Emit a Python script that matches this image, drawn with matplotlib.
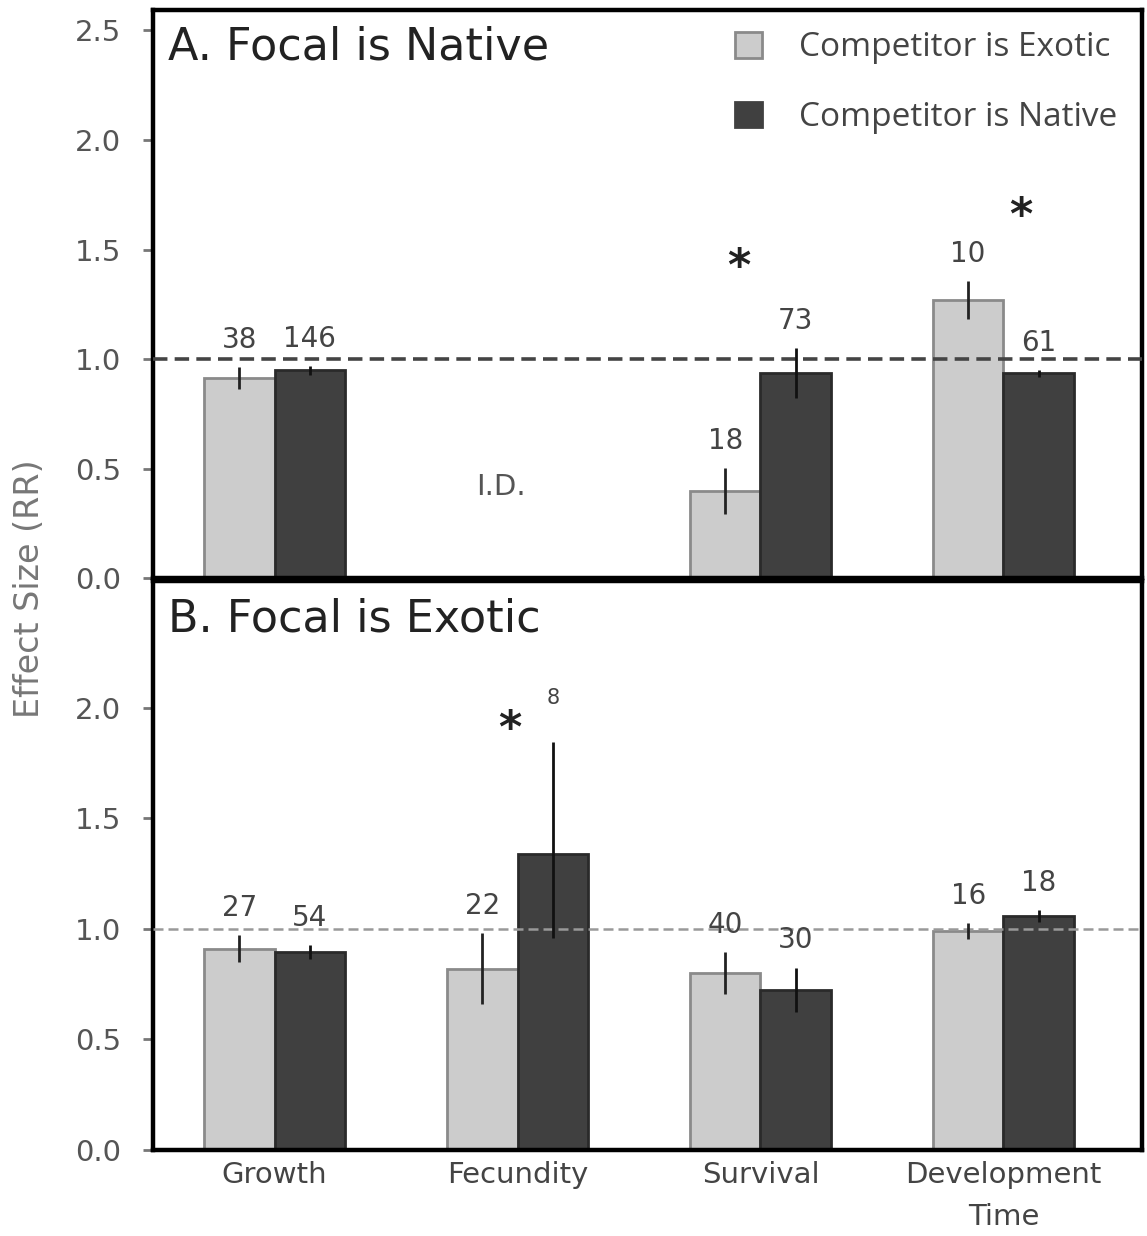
import numpy as np
import matplotlib
matplotlib.use("Agg")
import matplotlib.pyplot as plt
from matplotlib.patches import Patch

categories = ["Growth", "Fecundity", "Survival", "Development\nTime"]
series_names = ["Competitor is Exotic", "Competitor is Native"]

# panel A: focal is native (Fecundity has insufficient data)
a_exotic = [0.913, np.nan, 0.40, 1.27]
a_exotic_err = [0.05, np.nan, 0.105, 0.085]
a_native = [0.95, np.nan, 0.936, 0.936]
a_native_err = [0.02, np.nan, 0.115, 0.015]
a_exotic_n = ["38", "", "18", "10"]
a_native_n = ["146", "", "73", "61"]
a_stars = [None, None, 1.42, 1.65]

# panel B: focal is exotic
b_exotic = [0.91, 0.82, 0.80, 0.99]
b_exotic_err = [0.06, 0.16, 0.095, 0.035]
b_native = [0.895, 1.336, 0.724, 1.057]
b_native_err_lo = [0.03, 0.38, 0.10, 0.028]
b_native_err_hi = [0.03, 0.51, 0.10, 0.028]
b_exotic_n = ["27", "22", "40", "16"]
b_native_n = ["54", "8", "30", "18"]
b_stars = [None, 1.90, None, None]

light = "#cccccc"
dark = "#404040"
text_grey = "#555555"

fig = plt.figure(figsize=(11.47, 12.36), dpi=100)
ax_a = fig.add_axes([0.1335, 0.532, 0.862, 0.460])
ax_b = fig.add_axes([0.1335, 0.0696, 0.862, 0.460])

x = np.arange(len(categories))
w = 0.29


def draw_panel(ax, ex, ex_err, nat, nat_err, ex_n, nat_n, stars, star_dx, title, ylim,
               ticks, line_col, line_w, n_size=20):
    ax.bar(x - w / 2, ex, w, color=light, edgecolor="#8a8a8a", linewidth=2, zorder=2)
    ax.bar(x + w / 2, nat, w, color=dark, edgecolor="#2a2a2a", linewidth=2, zorder=2)
    ax.errorbar(x - w / 2, ex, yerr=ex_err, fmt="none", ecolor="#222222",
                elinewidth=2, capsize=0, zorder=4)
    ax.errorbar(x + w / 2, nat, yerr=nat_err, fmt="none", ecolor="#111111",
                elinewidth=2, capsize=0, zorder=4)
    ax.axhline(1.0, color=line_col, linestyle=(0, (4, 2)), linewidth=line_w, zorder=3)

    err_ex = np.asarray(ex_err, dtype=float)
    err_nat = np.asarray(nat_err[1] if isinstance(nat_err, tuple) else nat_err, dtype=float)
    for i in range(len(categories)):
        if ex_n[i]:
            ax.text(x[i] - w / 2, ex[i] + err_ex[i] + 0.06, ex_n[i], ha="center",
                    va="bottom", fontsize=n_size, color="#444444")
        if nat_n[i]:
            fs = 15 if nat_n[i] == "8" else n_size
            off = 0.15 if nat_n[i] == "8" else 0.06
            ax.text(x[i] + w / 2, nat[i] + err_nat[i] + off, nat_n[i], ha="center",
                    va="bottom", fontsize=fs, color="#444444")
        if stars[i] is not None:
            ax.text(x[i] + star_dx[i], stars[i], "*", ha="center", va="center",
                    fontsize=32, color="#222222", fontweight="bold")

    ax.set_xlim(-0.5, 3.57)
    ax.set_ylim(*ylim)
    ax.set_yticks(ticks)
    ax.set_yticklabels([f"{t:.1f}" for t in ticks])
    ax.tick_params(axis="y", labelsize=21, colors="#777777", labelcolor=text_grey,
                   length=7, width=2, direction="out", pad=16)
    for s in ax.spines.values():
        s.set_linewidth(3.2)
        s.set_color("black")
    ax.text(0.015, 0.972, title, transform=ax.transAxes, ha="left", va="top",
            fontsize=32, color="#222222")


draw_panel(ax_a, a_exotic, a_exotic_err, a_native, a_native_err, a_exotic_n, a_native_n,
           a_stars, [0, 0, -0.09, 0.07], "A. Focal is Native", (0, 2.594),
           [0.0, 0.5, 1.0, 1.5, 2.0, 2.5], "#444444", 2.6)
ax_a.text(0.93, 0.415, "I.D.", ha="center", va="center", fontsize=21, color="#555555")
ax_a.set_xticks([])

draw_panel(ax_b, b_exotic, b_exotic_err, b_native, (b_native_err_lo, b_native_err_hi),
           b_exotic_n, b_native_n, b_stars, [0, -0.03, 0, 0], "B. Focal is Exotic",
           (0, 2.57), [0.0, 0.5, 1.0, 1.5, 2.0], "#999999", 1.8)
ax_b.set_xticks(x)
ax_b.set_xticklabels(categories, fontsize=21, color="#444444", linespacing=1.65)
ax_b.tick_params(axis="x", length=0, pad=8)

handles = [Patch(facecolor=light, edgecolor="#8a8a8a", linewidth=2),
           Patch(facecolor=dark, edgecolor=dark, linewidth=2)]
leg = ax_a.legend(handles, series_names, loc="upper right", frameon=False,
                  labelspacing=1.1, handlelength=0.8, handleheight=0.8,
                  handletextpad=1.1, bbox_to_anchor=(1.005, 1.015),
                  prop={"family": "Open Sans", "size": 24})
for t in leg.get_texts():
    t.set_color("#444444")

fig.text(0.026, 0.524, "Effect Size (RR)", rotation=90, ha="center", va="center",
         fontsize=24, color="#777777")

fig.savefig("out.png", dpi=100)
